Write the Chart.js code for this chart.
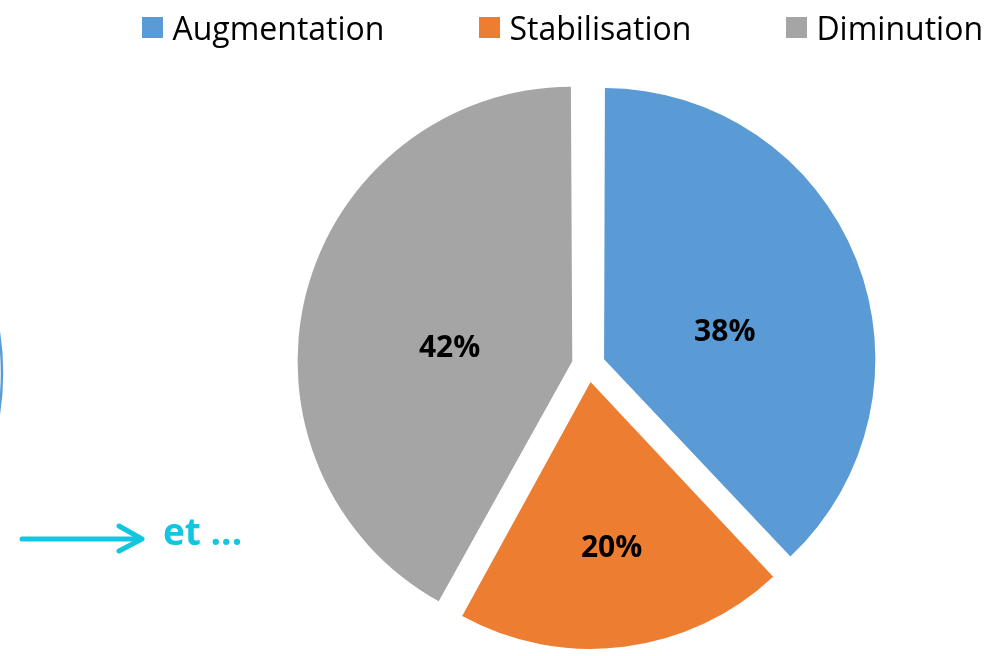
<!DOCTYPE html>
<html lang="fr">
<head>
<meta charset="utf-8">
<script src="https://cdn.jsdelivr.net/npm/chart.js@4.4.1/dist/chart.umd.min.js"></script>
<style>
  html, body { margin: 0; padding: 0; background: #fff; }
  #wrap { position: relative; width: 999px; height: 656px; overflow: hidden; }
  #chart { position: absolute; left: 0; top: 0; }
  #legend {
    position: absolute; top: 12px; right: 16px;
    display: flex; align-items: flex-start;
    font-family: "Open Sans", sans-serif; font-size: 32px; line-height: 32px; color: #000;
  }
  #legend .item { display: flex; align-items: flex-start; margin-left: 95px; white-space: nowrap; }
  #legend .box { width: 21px; height: 21px; margin-top: 5px; margin-right: 9px; }
  #note {
    position: absolute; left: 163px; top: 512px;
    font-family: "Open Sans", sans-serif; font-weight: bold; font-size: 37px; line-height: 37px;
    color: #12c6e0;
  }
  #deco { position: absolute; left: 0; top: 0; }
</style>
</head>
<body>
<div id="wrap">
  <canvas id="chart" width="999" height="656"></canvas>
  <svg id="deco" width="999" height="656">
    <!-- bord du cercle coupé à gauche -->
    <circle cx="-271" cy="373" r="273" fill="none" stroke="#5b9bd5" stroke-width="2.5"/>
    <!-- flèche -->
    <line x1="22" y1="539" x2="140" y2="539" stroke="#12c6e0" stroke-width="5" stroke-linecap="round"/>
    <polyline points="119,526 142,539 119,551" fill="none" stroke="#12c6e0" stroke-width="5"
              stroke-linecap="round" stroke-linejoin="round"/>
  </svg>
  <div id="note">et ...</div>
  <div id="legend"></div>
</div>
<script>
// Données
const categories = ["Augmentation", "Stabilisation", "Diminution"];
const shares = [38, 20, 42];
const colors = ["#5b9bd5", "#ed7d31", "#a5a5a5"];

// Légende (HTML)
const legend = document.getElementById("legend");
categories.forEach((name, i) => {
  const item = document.createElement("div");
  item.className = "item";
  const box = document.createElement("span");
  box.className = "box";
  box.style.background = colors[i];
  const txt = document.createElement("span");
  txt.textContent = name;
  item.appendChild(box);
  item.appendChild(txt);
  legend.appendChild(item);
});

// Étiquettes de pourcentage dans les parts
const sliceLabels = {
  id: "sliceLabels",
  afterDatasetsDraw(chart, args, opts) {
    const ctx = chart.ctx;
    const meta = chart.getDatasetMeta(0);
    ctx.save();
    ctx.font = 'bold 30px "Open Sans"';
    ctx.fillStyle = "#000";
    ctx.textAlign = "center";
    ctx.textBaseline = "middle";
    meta.data.forEach((arc, i) => {
      const p = arc.getProps(["x", "y", "startAngle", "endAngle", "outerRadius"], true);
      const mid = (p.startAngle + p.endAngle) / 2;
      const shift = (arc.options.offset || 0) / 4;
      const cx = p.x + Math.cos(mid) * shift;
      const cy = p.y + Math.sin(mid) * shift;
      const a = mid + opts.tilt[i] * Math.PI / 180;
      const r = opts.radius[i] * p.outerRadius;
      ctx.fillText(shares[i] + "%", cx + Math.cos(a) * r, cy + Math.sin(a) * r);
    });
    ctx.restore();
  }
};

const ctx = document.getElementById("chart").getContext("2d");
new Chart(ctx, {
  type: "pie",
  data: {
    labels: categories,
    datasets: [{
      data: shares,
      backgroundColor: colors,
      borderWidth: 0,
      offset: 67
    }]
  },
  options: {
    responsive: false,
    animation: false,
    radius: 266,
    layout: { padding: { left: 178, top: 75, right: 0, bottom: 0 } },
    plugins: {
      legend: { display: false },
      tooltip: { enabled: false },
      sliceLabels: { radius: [0.465, 0.63, 0.464], tilt: [9, 0, -8.3] }
    }
  },
  plugins: [sliceLabels]
});
</script>
</body>
</html>
